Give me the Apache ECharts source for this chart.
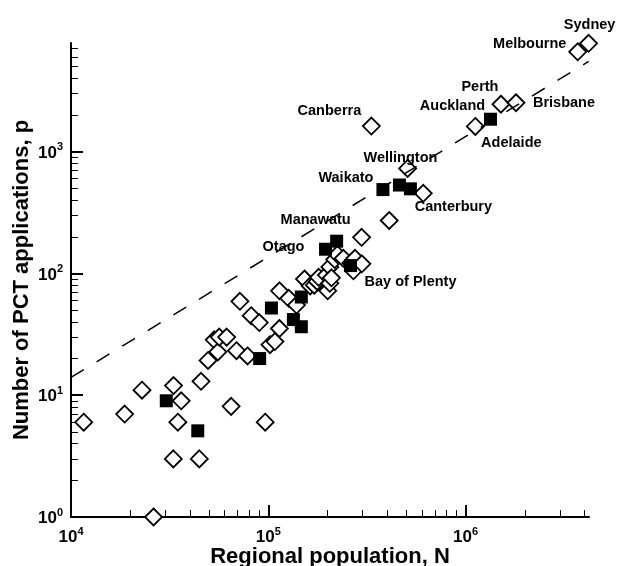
<!DOCTYPE html>
<html>
<head>
<meta charset="utf-8">
<script src="https://cdn.jsdelivr.net/npm/echarts@6/dist/echarts.min.js"></script>
<style>html,body{margin:0;padding:0;background:#fff}#chart{width:617px;height:566px}</style>
</head>
<body>
<div id="chart"></div>
<script>
// Australian regions (open diamonds)
const ausN = [11600,18700,22900,26200,33000,33100,34800,36200,44700,45600,49500,53200,55500,56400,61500,64800,69000,71800,78500,81900,90000,96400,102000,108000,113800,114000,127000,139000,152500,163000,171000,177000,180000,197000,200000,205000,205000,209000,217000,224000,240000,262000,270000,275000,298000,297000,410000,333000,508000,610000,1120000,1510000,1800000,3700000,4200000];
const ausP = [6,7,11,1,3,12,6,9,3,13,19.3,28.5,22.7,30,30,8.1,23.2,59,21,45,39.5,6,26,27.6,35.3,72,62.5,55,90,79,80,86,93,97,72,83,113,92,130,143,133,122,105,133,120,198,272,1623,728,455,1610,2450,2520,6600,7750];
const ausNames = ['','','','','','','','','','','','','','','','','','','','','','','','','','','','','','','','','','','','','','','','','','','','','','','','Canberra','','','Adelaide','Perth','Brisbane','Melbourne','Sydney'];
// New Zealand regions (filled squares)
const nzN = [30400,43900,90400,103700,134000,147000,147000,195000,222000,261000,381000,462000,525000,1337000];
const nzP = [9,5.1,20,52,41.8,36.5,64,158,184,116,488,532,495,1846];
const nzNames = ['','','','','','','','Otago','Manawatu','Bay of Plenty','Waikato','Wellington','Canterbury','Auckland'];
// Dashed reference line
const fitN = [10000, 4200000];
const fitP = [14, 5500];
// Axis ticks
const xMajorTicks = [1e4, 1e5, 1e6];
const xMinorTicks = [2e4,3e4,4e4,5e4,6e4,7e4,8e4,9e4,2e5,3e5,4e5,5e5,6e5,7e5,8e5,9e5,2e6,3e6,4e6];
const yMajorTicks = [1, 10, 100, 1000];
const yMinorTicks = [2,3,4,5,6,7,8,9,20,30,40,50,60,70,80,90,200,300,400,500,600,700,800,900,2000,3000,4000,5000,6000,7000];
const xRange = [1e4, 4.22e6];
const yRange = [1, 7800];

const FONT = '"Liberation Sans", Arial, sans-serif';
const labelOffsets = {
  'Canberra': [-42, -15], 'Adelaide': [36, 17], 'Perth': [-21, -17], 'Brisbane': [48, 0],
  'Melbourne': [-48, -8], 'Sydney': [1, -18], 'Otago': [-42, -2], 'Manawatu': [-21, -21],
  'Bay of Plenty': [60, 16], 'Waikato': [-37, -12], 'Wellington': [1, -27],
  'Canterbury': [43, 18], 'Auckland': [-38, -13]
};
const cityLabel = { color: '#000', fontFamily: FONT, fontWeight: 'bold', fontSize: 14.5,
  textBorderWidth: 0, opacity: 1 };
function makeData(xs, ys, names) {
  return xs.map((x, i) => {
    const item = { value: [x, ys[i]], name: names[i] };
    if (names[i]) {
      item.label = Object.assign({
        show: true, position: 'inside', offset: labelOffsets[names[i]], formatter: names[i]
      }, cityLabel);
    }
    return item;
  });
}
const supFmt = v => '{b|10}{s|' + Math.round(Math.log10(v)) + '}';
const richLbl = {
  b: { fontSize: 17, fontFamily: FONT, fontWeight: 'bold', color: '#000', lineHeight: 20, verticalAlign: 'bottom' },
  s: { fontSize: 11, fontFamily: FONT, fontWeight: 'bold', color: '#000', lineHeight: 20, verticalAlign: 'top', padding: [0,0,10,0] }
};
function majorAxis(dim) {
  const isX = dim === 'x';
  return {
    type: 'log', logBase: 10, gridIndex: 0,
    position: isX ? 'bottom' : 'left',
    min: isX ? xRange[0] : yRange[0], max: isX ? xRange[1] : yRange[1],
    name: isX ? 'Regional population, N' : 'Number of PCT applications, p',
    nameLocation: 'middle', nameGap: isX ? 29 : 38, nameMoveOverlap: false,
    nameTextStyle: { fontFamily: FONT, fontWeight: 'bold', fontSize: 22, color: '#000' },
    axisLine: { show: true, onZero: false, lineStyle: { color: '#000', width: 2 } },
    axisTick: { show: true, inside: true, length: 12, lineStyle: { color: '#000', width: 2 },
      customValues: isX ? xMajorTicks : yMajorTicks },
    axisLabel: { show: true, margin: isX ? 9 : 8, formatter: supFmt, rich: richLbl,
      customValues: isX ? xMajorTicks : yMajorTicks },
    splitLine: { show: false }, minorTick: { show: false }
  };
}
function minorAxis(dim) {
  const isX = dim === 'x';
  return {
    type: 'log', logBase: 10, gridIndex: 0,
    position: isX ? 'bottom' : 'left', offset: 0,
    min: isX ? xRange[0] : yRange[0], max: isX ? xRange[1] : yRange[1],
    axisLine: { show: false, onZero: false },
    axisTick: { show: true, inside: true, length: 7, lineStyle: { color: '#000', width: 1 },
      customValues: isX ? xMinorTicks : yMinorTicks },
    axisLabel: { show: false },
    splitLine: { show: false }
  };
}

const chart = echarts.init(document.getElementById('chart'), null, { renderer: 'canvas' });
chart.setOption({
  animation: false,
  backgroundColor: '#fff',
  grid: { left: 71, right: 28, top: 43, bottom: 49, containLabel: false, outerBoundsMode: 'none' },
  xAxis: [majorAxis('x'), minorAxis('x')],
  yAxis: [majorAxis('y'), minorAxis('y')],
  series: [
    {
      type: 'scatter', xAxisIndex: 0, yAxisIndex: 0, clip: false,
      symbol: 'diamond', symbolSize: 17,
      itemStyle: { color: '#fff', borderColor: '#000', borderWidth: 1.8, opacity: 1 },
      label: cityLabel,
      data: makeData(ausN, ausP, ausNames), z: 2
    },
    {
      type: 'scatter', xAxisIndex: 0, yAxisIndex: 0, clip: false,
      symbol: 'rect', symbolSize: 13,
      itemStyle: { color: '#000', borderWidth: 0, opacity: 1 },
      label: cityLabel,
      data: makeData(nzN, nzP, nzNames), z: 3
    },
    {
      type: 'line', xAxisIndex: 0, yAxisIndex: 0, symbol: 'none', silent: true,
      lineStyle: { color: '#000', width: 1.5, type: [15, 15] },
      data: fitN.map((x, i) => [x, fitP[i]]), z: 4
    }
  ]
});
</script>
</body>
</html>
